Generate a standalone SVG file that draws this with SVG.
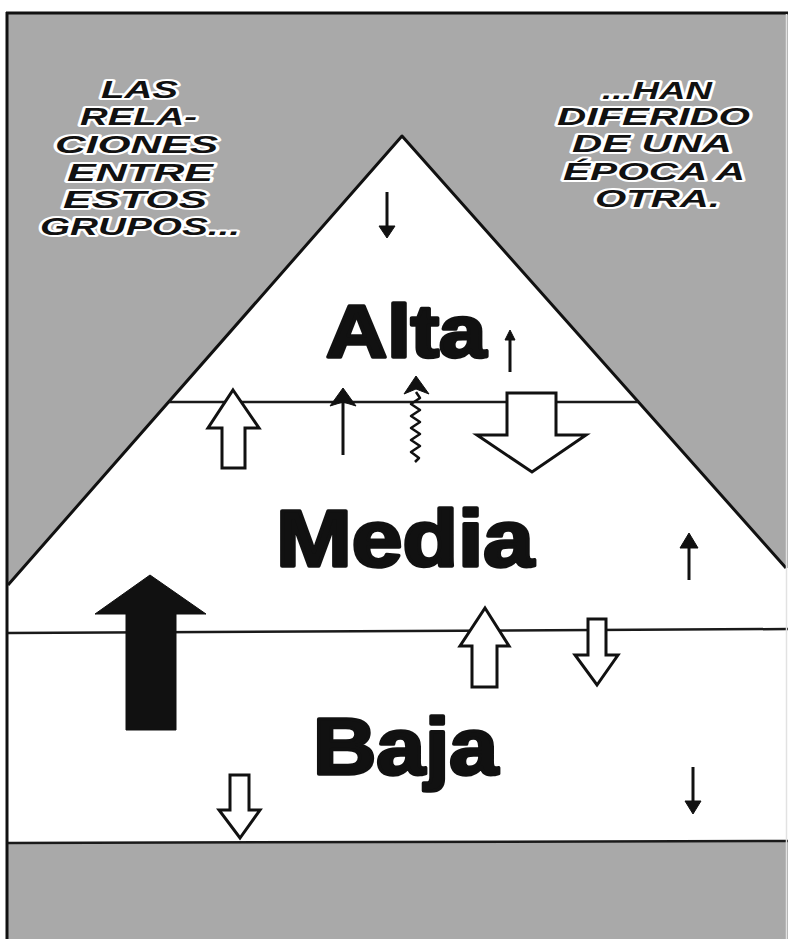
<svg xmlns="http://www.w3.org/2000/svg" width="788" height="939" viewBox="0 0 788 939">
<style>
.bg{fill:#a9a9a9}
.white{fill:#ffffff}
.edge{fill:none;stroke:#111;stroke-width:3;stroke-linejoin:round}
.band{fill:none;stroke:#1a1a1a;stroke-width:2.5}
.label{font-family:"Liberation Sans","DejaVu Sans",sans-serif;font-weight:bold;fill:#111;stroke:#111;stroke-width:3.5;stroke-linejoin:round}
.say{font-family:"Liberation Sans","DejaVu Sans",sans-serif;font-weight:bold;font-style:italic;font-size:24px;fill:#111;stroke:#fff;stroke-width:4;stroke-linejoin:round;paint-order:stroke fill}
.hollow{fill:#fff;stroke:#111;stroke-width:3;stroke-linejoin:miter}
.solid{fill:#111;stroke:#111;stroke-width:1}
.shaft{fill:none;stroke:#111;stroke-width:3}
.head{fill:#111;stroke:#111;stroke-width:1;stroke-linejoin:round}
.wave{fill:none;stroke:#111;stroke-width:2.5;stroke-linejoin:round}
</style>
<rect x="0" y="0" width="788" height="939" fill="#fff"/>
<rect class="bg" x="8" y="13" width="780" height="926"/>
<g id="pyramid">
  <polygon class="white" points="402,136 786,568 788,568 788,841 8,843 8,585"/>
  <polyline class="edge" points="8,585 402,136 786,568"/>
  <line class="band" x1="169" y1="402" x2="638" y2="402"/>
  <line class="band" x1="8" y1="633" x2="788" y2="629"/>
  <line class="band" x1="8" y1="843" x2="788" y2="841"/>
</g>
<g id="frame">
  <line x1="6" y1="13" x2="788" y2="13" stroke="#111" stroke-width="3"/>
  <line x1="7" y1="12" x2="7" y2="939" stroke="#111" stroke-width="3"/>
  <line x1="786.5" y1="14" x2="786.5" y2="939" stroke="#e2e2e2" stroke-width="1.5"/>
</g>
<g id="caption-left">
  <text class="say" x="101" y="98" textLength="77" lengthAdjust="spacingAndGlyphs">LAS</text>
  <text class="say" x="80" y="125" textLength="117" lengthAdjust="spacingAndGlyphs">RELA-</text>
  <text class="say" x="55" y="153" textLength="163" lengthAdjust="spacingAndGlyphs">CIONES</text>
  <text class="say" x="67" y="181" textLength="146" lengthAdjust="spacingAndGlyphs">ENTRE</text>
  <text class="say" x="63" y="208" textLength="144" lengthAdjust="spacingAndGlyphs">ESTOS</text>
  <text class="say" x="40" y="235" textLength="200" lengthAdjust="spacingAndGlyphs">GRUPOS...</text>
</g>
<g id="caption-right">
  <text class="say" x="602" y="99" textLength="110" lengthAdjust="spacingAndGlyphs">...HAN</text>
  <text class="say" x="557" y="125" textLength="193" lengthAdjust="spacingAndGlyphs">DIFERIDO</text>
  <text class="say" x="572" y="152" textLength="160" lengthAdjust="spacingAndGlyphs">DE UNA</text>
  <text class="say" x="563" y="180" textLength="182" lengthAdjust="spacingAndGlyphs">ÉPOCA A</text>
  <text class="say" x="595" y="207" textLength="125" lengthAdjust="spacingAndGlyphs">OTRA.</text>
</g>
<g id="alta">
  <text class="label" x="326" y="357" font-size="74" textLength="160" lengthAdjust="spacingAndGlyphs">Alta</text>
</g>
<g id="media">
  <text class="label" x="276" y="566" font-size="80" textLength="258" lengthAdjust="spacingAndGlyphs">Media</text>
</g>
<g id="baja">
  <text class="label" x="313" y="774" font-size="80" textLength="185" lengthAdjust="spacingAndGlyphs">Baja</text>
</g>
<g id="connectors">
  <line class="shaft" x1="387" y1="192" x2="387" y2="228"/>
  <polygon class="head" points="387,238 379,226 395,226"/>
  <line class="shaft" x1="510" y1="372" x2="510" y2="338" stroke-width="2.5"/>
  <polygon class="head" points="510,330 505,340 515,340"/>
  <polygon class="hollow" points="233,390 259,428 245,428 245,468 222,468 222,428 208,428"/>
  <line class="shaft" x1="343" y1="455" x2="343" y2="400" stroke-width="3.5"/>
  <polygon class="head" points="343,388 330,406 343,402 356,406"/>
  <path class="wave" d="M416,392 L420,398 L411,404 L420,410 L411,416 L420,422 L411,428 L420,434 L411,440 L420,446 L411,452 L419,458 L415,462"/>
  <polygon class="head" points="416,376 404,394 416,389 429,394"/>
  <polygon class="hollow" points="507,393 556,393 556,435 586,435 532,472 477,435 507,435"/>
  <line class="shaft" x1="689" y1="580" x2="689" y2="544"/>
  <polygon class="head" points="689,533 680,548 698,548"/>
  <polygon class="solid" points="150,575 206,614 176,614 176,730 126,730 126,614 95,614"/>
  <polygon class="hollow" points="485,608 509,646 497,646 497,687 472,687 472,646 460,646"/>
  <polygon class="hollow" points="588,619 606,619 606,655 618,655 597,685 575,655 588,655"/>
  <polygon class="hollow" points="230,775 249,775 249,810 260,810 240,838 219,810 230,810"/>
  <line class="shaft" x1="693" y1="767" x2="693" y2="803"/>
  <polygon class="head" points="693,814 685,801 701,801"/>
</g>
</svg>
